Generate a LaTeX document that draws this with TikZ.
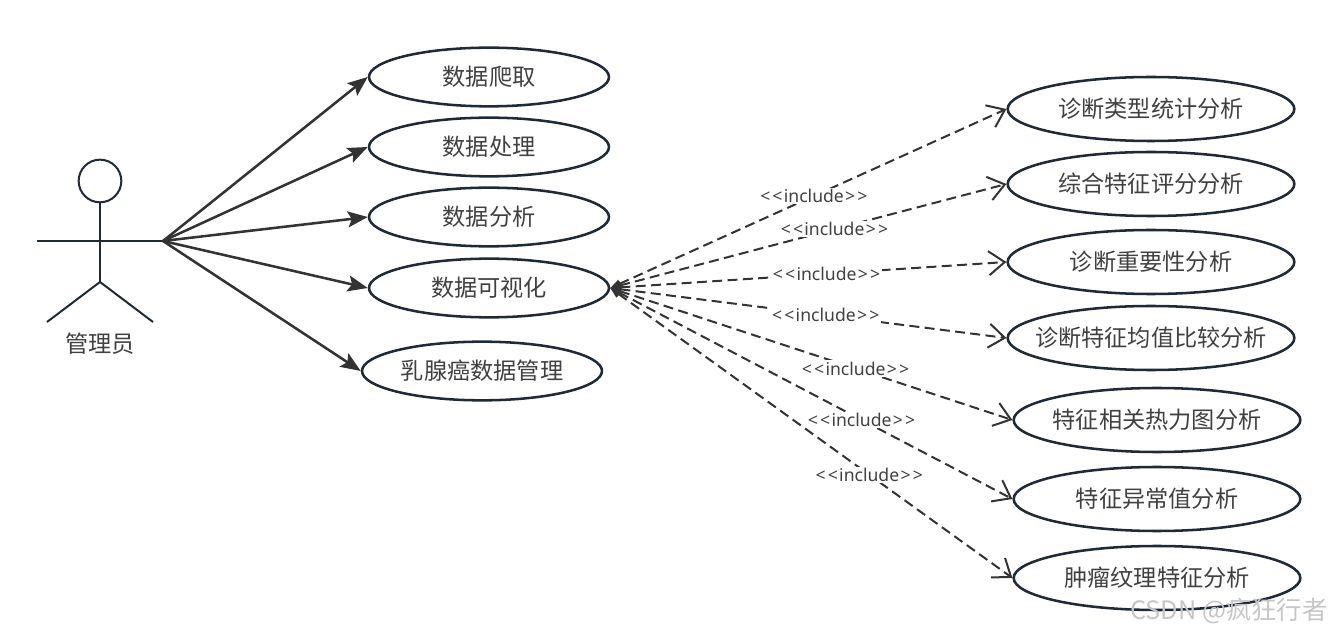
\documentclass[tikz,border=0pt]{standalone}
\usepackage{fontspec}
\setmainfont{Noto Sans CJK SC}
\newfontfamily\latinfont{Noto Sans}
\usetikzlibrary{arrows.meta,shapes.geometric}
\definecolor{edgeink}{HTML}{333333}
\definecolor{rimink}{HTML}{1F2A36}
\definecolor{textink}{HTML}{404040}
\newcommand{\incword}{<\kern1.6pt<\kern1pt include\kern1pt>\kern1.6pt>}
\tikzset{
	usecase/.style={draw=rimink, line width=1.9pt, ellipse, inner xsep=-30pt, inner ysep=0pt, text=textink, font=\fontsize{17.4}{17.4}\selectfont},
	smallcase/.style={usecase, minimum width=180pt, minimum height=44pt},
	bigcase/.style={usecase, minimum width=215pt, minimum height=48pt},
	stick/.style={draw=rimink, line width=1.5pt},
	assoc/.style={draw=edgeink, line width=1.9pt, -{Stealth[length=15pt,width=12pt,inset=3pt]}},
	incl/.style={draw=edgeink, line width=1.5pt, dash pattern=on 7.5pt off 4pt,
		{Triangle[length=8pt,width=6pt]}-{Straight Barb[length=12pt,width=18pt]}},
	incltext/.style={fill=white, inner sep=1pt, text=textink, font=\latinfont\fontsize{13.2}{13.2}\selectfont},
}

\begin{document}
\begin{tikzpicture}[x=0.75pt, y=-0.75pt]
	\useasboundingbox (0,0) rectangle (1332,634);
	\node[stick, circle, minimum size=32pt, inner sep=0pt] (head) at (100,181) {};
	\coordinate (hip) at (100,282);
	\coordinate (armL) at (37,241);
	\coordinate (armR) at (163,241);
	\coordinate (legL) at (47,322);
	\coordinate (legR) at (153,322);
	\draw[stick] (head.south) -- (hip);
	\draw[stick] (armL) -- (armR);
	\draw[stick] (legL) -- (hip) -- (legR);
	\node[text=textink, font=\fontsize{17.4}{17.4}\selectfont, inner sep=0pt] (admin) at (100,344) {管理员};

	\node[smallcase] (crawl) at (489,77) {数据爬取};
	\node[smallcase] (clean) at (489,147) {数据处理};
	\node[smallcase] (analyse) at (489,217) {数据分析};
	\node[smallcase] (vis) at (489,288) {数据可视化};
	\node[smallcase] (manage) at (482,371) {乳腺癌数据管理};

	\node[bigcase] (typestat) at (1151,109) {诊断类型统计分析};
	\node[bigcase] (score) at (1151,184) {综合特征评分分析};
	\node[bigcase] (weight) at (1151,262) {诊断重要性分析};
	\node[bigcase] (mean) at (1151,338) {诊断特征均值比较分析};
	\node[bigcase] (heat) at (1157,420) {特征相关热力图分析};
	\node[bigcase] (outlier) at (1157,499) {特征异常值分析};
	\node[bigcase] (texture) at (1157,578) {肿瘤纹理特征分析};

	\draw[assoc] (armR) -- (crawl.west);
	\draw[assoc] (armR) -- (clean.west);
	\draw[assoc] (armR) -- (analyse.west);
	\draw[assoc] (armR) -- (vis.west);
	\draw[assoc] (armR) -- (manage.west);

	\draw[incl] (vis.east) -- node[pos=0.514, incltext] (inclA) {\incword} (typestat.west);
	\draw[incl] (vis.east) -- node[pos=0.566, incltext] (inclB) {\incword} (score.west);
	\draw[incl] (vis.east) -- node[pos=0.546, incltext] (inclC) {\incword} (weight.west);
	\draw[incl] (vis.east) -- node[pos=0.544, incltext] (inclD) {\incword} (mean.west);
	\draw[incl] (vis.east) -- node[pos=0.610, incltext] (inclE) {\incword} (heat.west);
	\draw[incl] (vis.east) -- node[pos=0.625, incltext] (inclF) {\incword} (outlier.west);
	\draw[incl] (vis.east) -- node[pos=0.644, incltext] (inclG) {\incword} (texture.west);

	\node[text=gray!45, font=\fontsize{19}{19}\selectfont, inner sep=0pt] (mark) at (1229,611) {CSDN @疯狂行者};
\end{tikzpicture}
\end{document}
